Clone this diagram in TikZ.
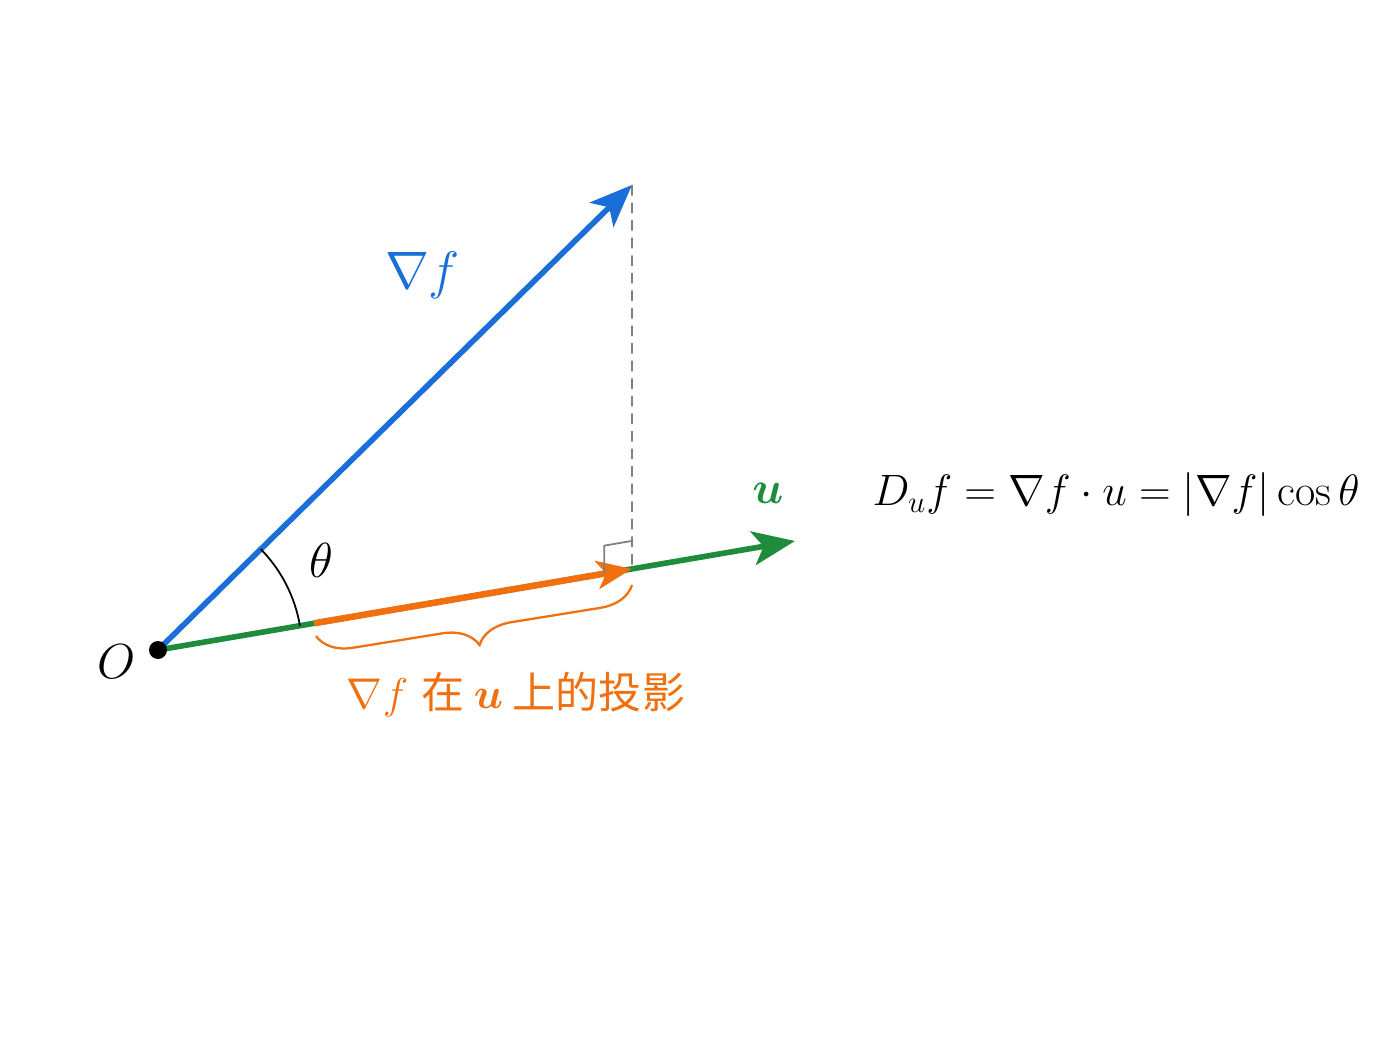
\RequirePackage{fix-cm}
\documentclass[tikz,border=0pt]{standalone}
\usepackage{fontspec}
\usepackage{amsmath,bm}
\newfontfamily\cjk{Noto Sans CJK SC}
\usetikzlibrary{arrows.meta,calc,decorations.pathreplacing}
\definecolor{gradblue}{HTML}{1A6ED8}
\definecolor{dirgreen}{HTML}{1E8C3C}
\definecolor{projorange}{HTML}{F07010}
\begin{document}
\begin{tikzpicture}[vec/.style={line width=3.2pt}, lbl/.style={font=\fontsize{28}{32}\selectfont}, head/.style={-{Stealth[length=#1, width=0.8*#1, inset=0.25*#1]}}]
	\useasboundingbox (0,0) rectangle (28,21);
	\coordinate (O) at (3.16,8); \coordinate (G) at (12.64,17.3); \coordinate (U) at (15.9,10.18);
	\coordinate (P) at ($(O)!0.744!(U)$); \coordinate (S) at ($(O)!0.245!(U)$);
	\coordinate (R) at ($(P)!0.56cm!(O)$); \coordinate (B1) at (6.32,8.28); \coordinate (B2) at (12.64,9.3);

	\draw[vec, dirgreen, head=0.85cm] (O) -- (U);
	\draw[line width=3.7pt, projorange, head=0.7cm] (S) -- (P);
	\draw[vec, gradblue, head=0.85cm] (O) -- (G);
	\draw[gray, dashed, line width=1pt, dash pattern=on 6pt off 4pt] (G) -- (P);
	\draw[gray, line width=1pt] ($(P)+(0,0.56)$) -- ($(R)+(0,0.56)$) -- (R);
	\draw[line width=1pt] ($(O)+(9.71:2.88)$) arc[start angle=9.71, end angle=44.45, radius=2.88];
	\draw[projorange, line width=1.3pt, decorate, decoration={brace, amplitude=0.7cm, mirror}] (B1) -- (B2);
	\fill (O) circle (0.18);

	\node[lbl, font=\fontsize{30}{34}\selectfont, text=gradblue] (gl) at (8.45,15.5) {$\nabla f$};
	\node[lbl, font=\fontsize{26}{30}\selectfont, text=dirgreen] (ul) at (15.36,11.14) {$\bm{u}$};
	\node[lbl] (th) at (6.42,9.8) {$\theta$};
	\node[lbl] (ol) at (2.34,7.76) {$O$};
	\node[font=\fontsize{25}{30}\selectfont] (eq) at (22.32,11.1) {$D_u f = \nabla f\cdot u = |\nabla f|\cos\theta$};
	\node[font=\fontsize{24.5}{29}\selectfont, text=projorange] (proj) at (10.32,7.1) {$\nabla f$ \cjk 在 $\bm{u}$ 上的投影};
\end{tikzpicture}
\end{document}
